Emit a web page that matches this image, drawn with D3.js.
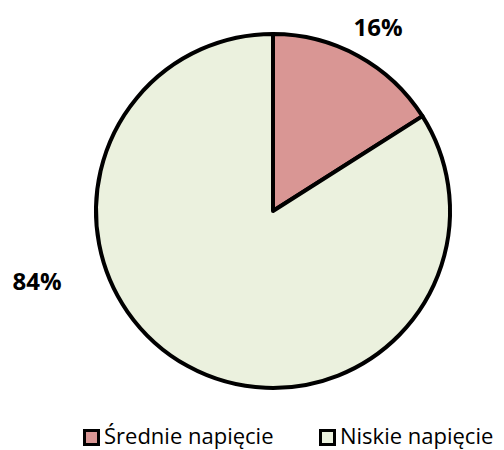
<!DOCTYPE html>
<html>
<head>
<meta charset="utf-8">
<script src="https://cdn.jsdelivr.net/npm/d3@7"></script>
<style>
  body { margin: 0; background: #fff; }
  svg { display: block; font-family: "Open Sans", "DejaVu Sans", sans-serif; }
</style>
</head>
<body>
<svg id="chart" width="504" height="450"></svg>
<script>
const categories = ["Średnie napięcie", "Niskie napięcie"];
const values     = [16, 84];
const labels     = ["16%", "84%"];
const colors     = ["#D99694", "#EBF1DE"];

const svg = d3.select("#chart");
const cx = 273, cy = 211, R = 177;

const color = d3.scaleOrdinal().domain(categories).range(colors);
const pie = d3.pie().sort(null).value(d => d.value);
const arc = d3.arc().innerRadius(0).outerRadius(R);

const data = categories.map((c, i) => ({ name: c, value: values[i], label: labels[i] }));
const arcs = pie(data);

const g = svg.append("g").attr("transform", `translate(${cx},${cy})`);

g.selectAll("path").data(arcs)
  .join("path")
    .attr("d", arc)
    .attr("fill", d => color(d.data.name))
    .attr("stroke", "#000")
    .attr("stroke-width", 4)
    .attr("stroke-linejoin", "round");

// outside labels
const labelPos = [[105, -175], [-236, 79]];
g.selectAll("text.lbl").data(arcs)
  .join("text")
    .attr("class", "lbl")
    .attr("x", (d, i) => labelPos[i][0])
    .attr("y", (d, i) => labelPos[i][1])
    .attr("text-anchor", "middle")
    .attr("font-weight", "bold")
    .attr("font-size", "24px")
    .attr("fill", "#000")
    .text(d => d.data.label);

// legend
const legendX = [83, 319];
const legend = svg.append("g");
categories.forEach((c, i) => {
  const row = legend.append("g").attr("transform", `translate(${legendX[i]},429)`);
  row.append("rect").attr("x", 1.5).attr("y", 1.5).attr("width", 14).attr("height", 14)
    .attr("fill", color(c)).attr("stroke", "#000").attr("stroke-width", 3);
  row.append("text").attr("x", 21).attr("y", 15)
    .attr("font-size", "22px").attr("fill", "#000").text(c);
});
</script>
</body>
</html>
